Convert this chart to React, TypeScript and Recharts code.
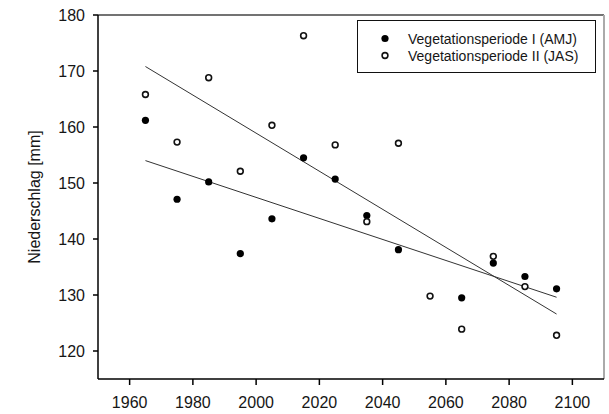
import React from 'react';
import {
  ScatterChart,
  Scatter,
  XAxis,
  YAxis,
  ReferenceLine,
  Legend,
} from 'recharts';

const years = [1965, 1975, 1985, 1995, 2005, 2015, 2025, 2035, 2045, 2055, 2065, 2075, 2085, 2095];
const amjValues = [161.2, 147.1, 150.2, 137.4, 143.6, 154.5, 150.7, 144.2, 138.1, null, 129.5, 135.7, 133.3, 131.1];
const jasValues = [165.8, 157.3, 168.8, 152.1, 160.3, 176.3, 156.8, 143.1, 157.1, 129.8, 123.9, 136.9, 131.5, 122.8];

const trendYears = [1965, 2095];
const amjTrendValues = [154.0, 129.6];
const jasTrendValues = [170.8, 126.6];

const xTicks = [1960, 1980, 2000, 2020, 2040, 2060, 2080, 2100];
const yTicks = [120, 130, 140, 150, 160, 170, 180];
const legendLabels = ['Vegetationsperiode I (AMJ)', 'Vegetationsperiode II (JAS)'];

const toPoints = (xs: number[], ys: (number | null)[]) =>
  xs.map((x, i) => ({ year: x, value: ys[i] })).filter((d) => d.value !== null);

const amjData = toPoints(years, amjValues);
const jasData = toPoints(years, jasValues);
const amjTrend = toPoints(trendYears, amjTrendValues);
const jasTrend = toPoints(trendYears, jasTrendValues);

const font = '"Liberation Sans", Arial, sans-serif';
const textColor = '#161616';

const FilledDot = (props: any) => (
  <circle cx={props.cx} cy={props.cy} r={3.6} fill="#000" />
);

const OpenDot = (props: any) => (
  <circle cx={props.cx} cy={props.cy} r={2.9} fill="#fff" stroke="#111" strokeWidth={1.6} />
);

const NoDot = () => <g />;

function LegendBox() {
  return (
    <div
      style={{
        width: 237,
        height: 51,
        border: '1.5px solid #111',
        background: '#fff',
        boxSizing: 'content-box',
        fontFamily: font,
        fontSize: 14,
        color: textColor,
      }}
    >
      {legendLabels.map((label, i) => (
        <div key={label} style={{ display: 'flex', alignItems: 'center', height: 17, marginTop: i === 0 ? 9 : 0 }}>
          <svg width={50} height={17}>
            {i === 0 ? (
              <circle cx={27} cy={8.5} r={3.6} fill="#000" />
            ) : (
              <circle cx={27} cy={8.5} r={2.9} fill="#fff" stroke="#111" strokeWidth={1.6} />
            )}
          </svg>
          <span style={{ whiteSpace: 'nowrap' }}>{label}</span>
        </div>
      ))}
    </div>
  );
}

export default function App() {
  return (
    <div style={{ position: 'absolute', left: 0, top: 0, background: '#fff' }}>
      <ScatterChart width={609} height={414} margin={{ top: 15, right: 5, bottom: 0, left: 0 }}>
        <XAxis
          type="number"
          dataKey="year"
          domain={[1950, 2110]}
          ticks={xTicks}
          allowDataOverflow
          height={35}
          tickSize={6}
          tickMargin={12}
          axisLine={{ stroke: '#000', strokeWidth: 1.5 }}
          tickLine={{ stroke: '#000', strokeWidth: 1.5 }}
          tick={{ fill: textColor, fontSize: 16, fontFamily: font }}
        />
        <YAxis
          type="number"
          dataKey="value"
          domain={[115, 180]}
          ticks={yTicks}
          allowDataOverflow
          width={98}
          tickSize={5}
          tickMargin={8}
          axisLine={{ stroke: '#000', strokeWidth: 1.5 }}
          tickLine={{ stroke: '#000', strokeWidth: 1.5 }}
          tick={{ fill: textColor, fontSize: 16, fontFamily: font }}
          label={{
            content: (props: any) => {
              const vb = props.viewBox;
              const cx = vb.x + 34;
              const cy = vb.y + vb.height / 2;
              return (
                <text
                  x={cx}
                  y={cy}
                  transform={`rotate(-90, ${cx}, ${cy})`}
                  textAnchor="middle"
                  dominantBaseline="central"
                  fontSize={16}
                  fontFamily={font}
                  fill={textColor}
                >
                  Niederschlag [mm]
                </text>
              );
            },
          }}
        />
        <ReferenceLine y={180} stroke="#444" strokeWidth={1.5} />
        <ReferenceLine x={2110} stroke="#aaa" strokeWidth={2} />
        <Scatter
          data={jasTrend}
          line={{ stroke: '#333', strokeWidth: 1 }}
          shape={NoDot}
          legendType="none"
          isAnimationActive={false}
        />
        <Scatter
          data={amjTrend}
          line={{ stroke: '#333', strokeWidth: 1 }}
          shape={NoDot}
          legendType="none"
          isAnimationActive={false}
        />
        <Scatter name={legendLabels[0]} data={amjData} shape={FilledDot} isAnimationActive={false} />
        <Scatter name={legendLabels[1]} data={jasData} shape={OpenDot} isAnimationActive={false} />
        <Legend
          layout="vertical"
          align="center"
          verticalAlign="middle"
          content={() => <LegendBox />}
          wrapperStyle={{ position: 'absolute', left: 357, top: 20, width: 'auto' }}
        />
      </ScatterChart>
    </div>
  );
}
